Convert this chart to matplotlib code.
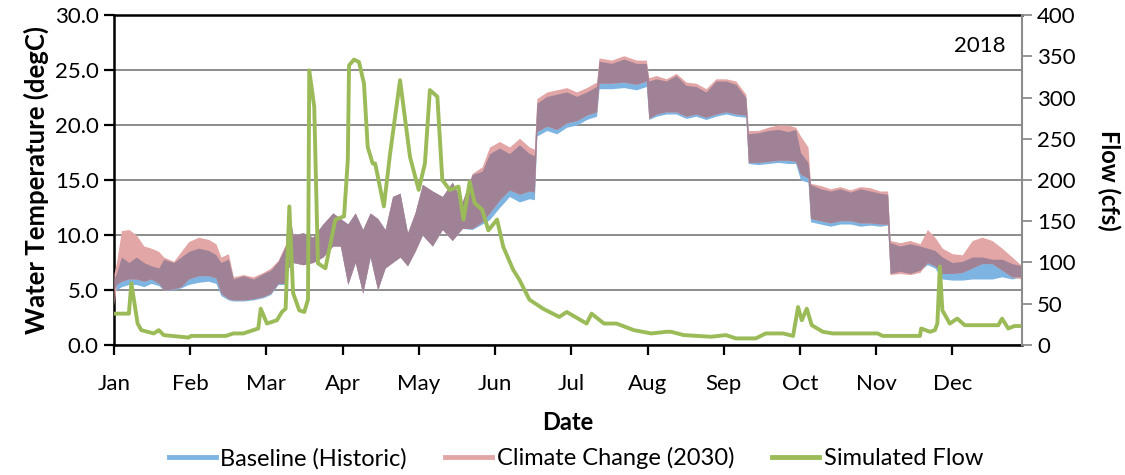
import matplotlib
matplotlib.use("Agg")
import matplotlib.pyplot as plt
from matplotlib.lines import Line2D
import numpy as np

# water temperature envelopes (day of year, degC)
day = [0, 1, 3, 6, 9, 12, 15, 18, 20, 24, 27, 30, 34, 38, 41, 43, 46, 48, 52, 56,
       60, 63, 66, 69, 70, 72, 76, 80, 84, 88, 91, 94, 97, 100, 103, 106, 109, 112,
       115, 118, 121, 124, 128, 132, 136, 140, 144, 148, 151, 155, 159, 163, 167,
       169, 170, 174, 178, 182, 186, 190, 194, 195, 200, 205, 210, 214, 215, 218,
       222, 226, 230, 234, 238, 242, 246, 250, 254, 255, 259, 263, 267, 271, 274,
       276, 279, 280, 284, 288, 292, 296, 300, 304, 308, 311, 312, 316, 320, 324,
       327, 330, 333, 337, 341, 345, 349, 353, 357, 361, 365]
base_lo = [5.0, 5.0, 5.3, 5.5, 5.5, 5.3, 5.6, 5.4, 5.0, 5.0, 5.2, 5.5, 5.7, 5.8, 5.6,
           4.5, 4.1, 4.0, 4.0, 4.1, 4.3, 4.6, 5.5, 5.5, 7.0, 7.5, 7.3, 7.5, 8.0, 9.0,
           9.0, 5.5, 7.5, 4.7, 8.0, 5.0, 7.0, 7.5, 8.0, 7.2, 8.5, 10.0, 9.0, 10.5,
           9.5, 10.6, 10.5, 11.0, 11.4, 12.5, 13.5, 13.0, 13.3, 13.2, 19.0, 19.5,
           19.2, 19.8, 20.0, 20.5, 20.8, 23.3, 23.3, 23.4, 23.2, 23.5, 20.5, 20.8,
           21.0, 21.0, 20.6, 20.8, 20.5, 20.8, 21.0, 20.8, 20.7, 16.5, 16.4, 16.5,
           16.6, 16.5, 16.5, 15.0, 14.8, 11.2, 11.0, 10.8, 11.0, 11.0, 10.8, 10.9,
           10.8, 10.9, 6.5, 6.7, 6.5, 6.8, 7.3, 7.0, 6.0, 5.9, 5.9, 6.0, 6.0, 6.0,
           6.2, 6.0, 6.2]
base_hi = [6.0, 6.5, 8.0, 7.5, 8.0, 7.5, 7.2, 7.0, 7.8, 7.5, 8.0, 8.5, 8.8, 8.6, 8.2,
           7.5, 7.8, 6.0, 6.3, 6.0, 6.5, 6.8, 7.6, 9.0, 12.4, 10.0, 10.2, 9.8, 11.0,
           12.0, 11.5, 11.0, 12.0, 10.5, 12.0, 11.5, 10.5, 13.5, 13.8, 10.2, 12.0,
           14.6, 14.0, 13.5, 14.8, 13.0, 15.5, 15.8, 17.4, 17.9, 17.4, 18.2, 17.4,
           17.2, 22.0, 22.6, 22.8, 23.0, 22.6, 23.0, 23.5, 25.8, 25.6, 26.0, 25.6,
           25.6, 24.0, 24.2, 24.0, 24.5, 23.6, 23.5, 23.0, 24.0, 24.0, 23.7, 22.5,
           19.2, 19.3, 19.5, 19.6, 19.4, 19.6, 17.5, 16.6, 14.6, 14.2, 14.0, 14.2,
           13.9, 14.2, 14.0, 13.8, 13.7, 9.3, 9.0, 9.2, 9.0, 8.8, 8.6, 8.0, 7.5, 7.6,
           8.0, 8.0, 7.8, 7.8, 7.4, 7.2]
cc_lo = [3.6, 5.5, 5.8, 6.0, 6.0, 5.8, 6.0, 5.6, 5.0, 5.1, 5.3, 6.0, 6.3, 6.3, 6.1,
         4.7, 4.2, 4.1, 4.1, 4.2, 4.4, 4.7, 5.6, 5.6, 7.0, 7.5, 7.3, 7.5, 8.0, 9.0,
         9.0, 5.5, 7.5, 4.7, 8.0, 5.0, 7.0, 7.5, 8.0, 7.2, 8.5, 10.0, 9.0, 10.5,
         9.5, 10.6, 10.6, 11.2, 12.0, 13.2, 14.1, 13.7, 14.0, 13.9, 19.4, 19.9,
         19.6, 20.2, 20.4, 20.9, 21.2, 23.8, 23.8, 23.9, 23.7, 24.0, 20.6, 21.0,
         21.2, 21.2, 20.8, 21.0, 20.7, 21.0, 21.2, 21.0, 20.9, 16.6, 16.6, 16.7,
         16.8, 16.8, 16.7, 15.5, 15.2, 11.5, 11.3, 11.1, 11.3, 11.3, 11.1, 11.1,
         11.0, 11.0, 6.4, 6.5, 6.4, 6.6, 7.5, 7.2, 6.5, 6.5, 6.6, 7.0, 7.4, 7.4,
         6.8, 6.2, 6.0]
cc_hi = [6.5, 7.5, 10.4, 10.5, 10.0, 9.0, 8.8, 8.5, 8.0, 7.6, 8.5, 9.4, 9.8, 9.6,
         9.2, 8.0, 8.3, 6.2, 6.4, 6.2, 6.6, 7.0, 7.7, 9.2, 12.4, 10.0, 10.2, 9.8,
         11.0, 12.0, 11.5, 11.0, 12.0, 10.5, 12.0, 11.5, 10.5, 13.5, 13.8, 10.2,
         12.0, 14.6, 14.0, 13.5, 14.8, 13.0, 15.6, 16.2, 18.0, 18.5, 18.0, 18.8,
         18.0, 17.8, 22.4, 23.0, 23.2, 23.4, 23.0, 23.4, 23.9, 26.1, 25.9, 26.3,
         25.9, 25.9, 24.3, 24.5, 24.2, 24.7, 23.9, 23.8, 23.3, 24.2, 24.2, 24.0,
         22.8, 19.5, 19.5, 19.8, 20.0, 20.0, 19.8, 19.0, 18.0, 14.7, 14.5, 14.2,
         14.4, 14.1, 14.4, 14.3, 14.0, 14.0, 9.5, 9.3, 9.5, 9.2, 10.5, 9.8, 8.8,
         8.3, 8.2, 9.5, 9.8, 9.5, 8.8, 8.0, 7.2]

# simulated flow (day of year, cfs)
flow_day = [0, 6, 7, 9.5, 11, 16, 18, 20, 30, 31, 45, 48, 52, 56, 58, 59, 61.5, 65.5,
            67.5, 69, 70.5, 72, 74.5, 76.5, 78, 78.5, 80.5, 82, 85, 89, 92.5, 94,
            94.5, 96.5, 98.5, 100.5, 102, 104, 105, 108.5, 111, 115, 119, 122.5, 125,
            127, 130, 132, 135, 138.5, 140.5, 143, 145, 148, 150.5, 154, 156.5,
            160.5, 163, 167, 172.5, 179, 182, 190, 192, 197, 202, 209, 216, 222,
            224, 229, 240, 246, 250, 258, 262, 269, 273, 275, 276.5, 278.5, 280.5,
            285, 289, 307, 309, 324, 324.5, 328, 330, 331, 332, 333, 336, 339, 342,
            355.5, 357, 359.5, 362, 364]
flow = [38, 38, 75, 26, 18, 14, 18, 12, 9, 11, 11, 14, 14, 18, 20, 44, 26, 30, 40,
        44, 168, 63, 42, 40, 55, 333, 289, 99, 93, 152, 156, 224, 339, 346, 343,
        317, 240, 220, 220, 168, 232, 321, 228, 188, 220, 309, 301, 200, 188, 192,
        152, 198, 172, 164, 139, 152, 119, 91, 79, 55, 44, 34, 40, 26, 38, 26, 26,
        18, 14, 16, 16, 12, 10, 12, 8, 8, 14, 14, 11, 46, 30, 44, 24, 16, 14, 14,
        11, 11, 20, 16, 18, 26, 95, 42, 26, 32, 24, 24, 32, 20, 23, 23]

months = ["Jan", "Feb", "Mar", "Apr", "May", "Jun", "Jul", "Aug", "Sep", "Oct", "Nov", "Dec"]

blue = "#7db4e1"
pink = "#e3a6a6"
mauve = "#a08296"
green = "#9bbb59"

plt.rcParams["font.family"] = ["Lato", "DejaVu Sans"]

fig = plt.figure(figsize=(11.25, 4.75), dpi=100)
ax = fig.add_axes([0.1013, 0.2737, 0.8071, 0.6947])
ax2 = ax.twinx()

d = np.array(day, dtype=float)
bl, bh = np.array(base_lo), np.array(base_hi)
cl, ch = np.array(cc_lo), np.array(cc_hi)
ax.fill_between(d, bl, bh, color=blue, lw=0, zorder=2)
ax.fill_between(d, cl, ch, color=pink, lw=0, zorder=3)
olo = np.maximum(bl, cl)
ohi = np.minimum(bh, ch)
ax.fill_between(d, olo, ohi, where=ohi > olo, interpolate=True, color=mauve, lw=0, zorder=4)

ax2.plot(flow_day, flow, color=green, lw=2.8, solid_joinstyle="round", zorder=5)

ax.set_xlim(0, 365)
ax.set_ylim(0, 30)
ax2.set_ylim(0, 400)
ax.set_yticks(np.arange(0, 31, 5))
ax.set_yticklabels([f"{v:.1f}" for v in np.arange(0, 31, 5)])
ax2.set_yticks(np.arange(0, 401, 50))
ax.set_xticks(np.arange(12) * 30.64)
ax.set_xticklabels(months)

ax.grid(axis="y", color="#8c8c8c", lw=1.4, zorder=0)
ax.set_axisbelow(True)

for s in ["left", "bottom", "top"]:
    ax.spines[s].set_color("black")
    ax.spines[s].set_linewidth(1.8)
ax.spines["right"].set_visible(False)
for s in ["left", "bottom", "top"]:
    ax2.spines[s].set_visible(False)
ax2.spines["right"].set_color("#8c8c8c")
ax2.spines["right"].set_linewidth(1.5)

ax.tick_params(axis="both", direction="out", length=7, width=1.6, labelsize=16, colors="black")
ax.tick_params(axis="x", pad=14)
ax.tick_params(axis="y", pad=4)
ax2.tick_params(axis="y", direction="out", length=7, width=1.3, color="#8c8c8c", labelsize=16,
                labelcolor="black", pad=4)

ax.set_ylabel("Water Temperature (degC)", fontsize=18.5, fontweight="bold", labelpad=4)
ax2.set_ylabel("Flow (cfs)", fontsize=17, fontweight="bold", rotation=270, labelpad=32)
ax.set_xlabel("Date", fontsize=17, fontweight="bold", labelpad=12)

ax.text(0.982, 0.905, "2018", transform=ax.transAxes, ha="right", va="center", fontsize=16)

handles = [Line2D([], [], color=blue, lw=3.5),
           Line2D([], [], color=pink, lw=3.5),
           Line2D([], [], color=green, lw=3.5)]
fig.legend(handles, ["Baseline (Historic)", "Climate Change (2030)", "Simulated Flow"],
           loc="center", bbox_to_anchor=(0.512, 0.035), ncol=3, frameon=False,
           fontsize=17, handlelength=2.0, handletextpad=0.2, columnspacing=1.6)

fig.savefig("out.png", dpi=100)
